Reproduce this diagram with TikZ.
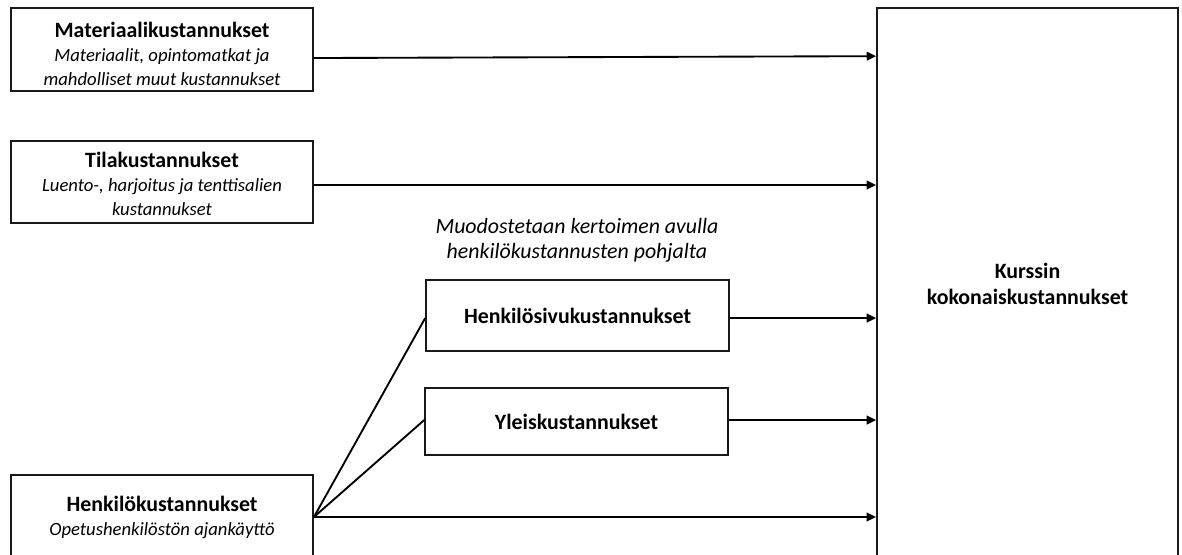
\documentclass[tikz,border=0pt]{standalone}
\usepackage{fontspec}
\setmainfont{Carlito}
\usetikzlibrary{arrows.meta}
\newcommand{\ttl}[1]{{\fontsize{16.4}{18}\selectfont\bfseries #1}}
\newcommand{\dsc}[1]{{\itshape #1}}
\begin{document}
\begin{tikzpicture}[x=0.75pt,y=-0.75pt,
  every node/.style={font=\fontsize{14}{18}\selectfont},
  box/.style={draw=black!90, line width=1.4pt, fill=white, align=center, inner sep=0pt},
  lbl/.style={align=center, inner sep=0pt, font=\fontsize{16.4}{18.5}\selectfont\itshape},
  arr/.style={line width=1.4pt, -{Triangle[length=7pt,width=6.5pt]}},
  ln/.style={line width=1.4pt}]
\useasboundingbox (0,0) rectangle (1182,555);
\begin{scope}
\clip (0,0) rectangle (1182,555);
\node[box, minimum width=226.5pt, minimum height=62.5pt] (b1) at (162,49.5)
  {\rule{0pt}{17.5pt}\ttl{Materiaalikustannukset}\\\dsc{Materiaalit, opintomatkat ja}\\\dsc{mahdolliset muut kustannukset}};
\node[box, minimum width=226.5pt, minimum height=61.5pt] (b2) at (162,182)
  {\rule{0pt}{14.5pt}\ttl{Tilakustannukset}\\\dsc{Luento-, harjoitus ja tenttisalien}\\\dsc{kustannukset}};
\node[box, minimum width=226.5pt, minimum height=63pt] (b3) at (162,517)
  {\ttl{Henkilökustannukset}\\\dsc{Opetushenkilöstön ajankäyttö}};
\node[box, minimum width=227pt, minimum height=53.25pt] (hs) at (577.5,315.5)
  {\ttl{Henkilösivukustannukset}};
\node[box, minimum width=227pt, minimum height=50.25pt] (yk) at (576.5,421.5)
  {\ttl{Yleiskustannukset}};
\node[box, minimum width=225.75pt, minimum height=414pt, font=\fontsize{16.4}{20}\selectfont\bfseries] (big) at (1027.5,284)
  {Kurssin\\kokonaiskustannukset};
\node[lbl] (note) at (577,240.5)
  {Muodostetaan kertoimen avulla\\henkilökustannusten pohjalta};
\draw[arr] ([yshift=-6.4pt]b1.east) -- ([yshift=-5pt]b1.east -| big.west);
\draw[arr] ([yshift=-2.25pt]b2.east) -- ([yshift=-2.25pt]b2.east -| big.west);
\draw[arr] ([yshift=-1.9pt]hs.east) -- ([yshift=-1.9pt]hs.east -| big.west);
\draw[arr] ([yshift=1.1pt]yk.east) -- ([yshift=1.1pt]yk.east -| big.west);
\draw[arr] (b3.east) -- (b3.east -| big.west);
\draw[ln] (b3.east) -- ([yshift=-1.9pt]hs.west);
\draw[ln] (b3.east) -- ([yshift=1.1pt]yk.west);
\end{scope}
\end{tikzpicture}
\end{document}
